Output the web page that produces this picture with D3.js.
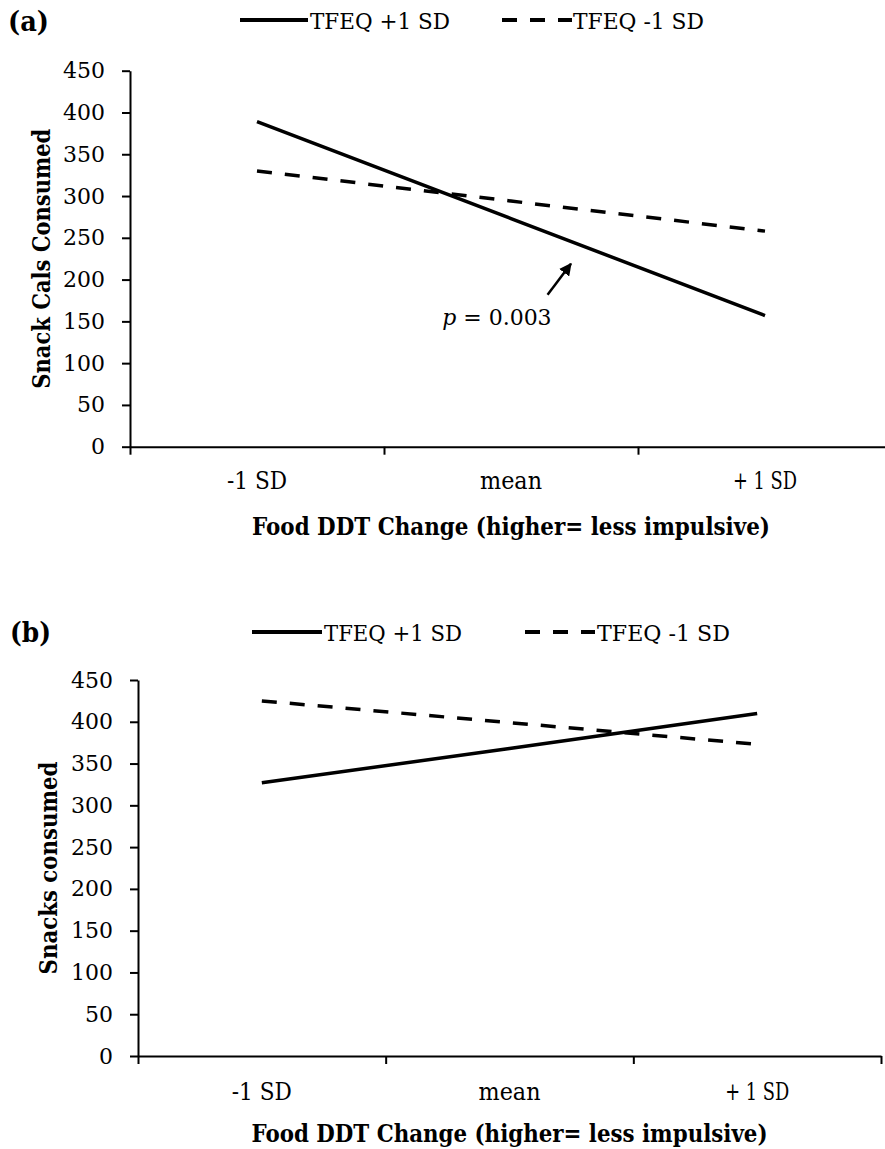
<!DOCTYPE html>
<html>
<head>
<meta charset="utf-8">
<script src="https://cdn.jsdelivr.net/npm/d3@7"></script>
<style>
  html, body { margin: 0; padding: 0; background: #fff; }
  svg { display: block; }
  text { font-family: "DejaVu Serif", serif; fill: #000; }
</style>
</head>
<body>
<svg id="chart" width="885" height="1149"></svg>
<script>
// ---------------- data ----------------
const categories = ["-1 SD", "mean", "+ 1 SD"];
const yTickValues = [0, 50, 100, 150, 200, 250, 300, 350, 400, 450];
const seriesNames = ["TFEQ +1 SD", "TFEQ -1 SD"];
// panel (a): Snack Cals Consumed
const aTfeqHigh = [389, 273, 157];
const aTfeqLow  = [330, 294, 258];
// panel (b): Snacks consumed
const bTfeqHigh = [327, 368, 410];
const bTfeqLow  = [425, 399, 373];
const panelLabels = ["(a)", "(b)"];
const yTitles = ["Snack Cals Consumed", "Snacks consumed"];
const xTitle = "Food DDT Change (higher= less impulsive)";
// annotation in panel (a): arrow (category index, value) and label
const annotArrowTail = [1.144, 182];
const annotArrowHead = [1.236, 219];
const annotLabelPos  = [1.16, 146];
const annotText = "= 0.003";

// ---------------- layout ----------------
const svg = d3.select("#chart");
svg.append("rect").attr("width", 885).attr("height", 1149).attr("fill", "#fff");

const panels = [
  { label: panelLabels[0], yTitle: yTitles[0], high: aTfeqHigh, low: aTfeqLow,
    left: 130, right: 892, top: 70.7, bottom: 446.7,
    labelPos: [8, 31], legendY: 20, legendTextY: 29,
    leg: { solid: [240, 308], t1: [310, 140], dash: [502, 572], t2: [573, 131] },
    yTitleX: 50, yTitleLen: 260, tickLabelY: 489, titleY: 535, titleLen: 518,
    tickLens: [60, 62, 64], annot: true },
  { label: panelLabels[1], yTitle: yTitles[1], high: bTfeqHigh, low: bTfeqLow,
    left: 138, right: 881, top: 680, bottom: 1056,
    labelPos: [10, 642], legendY: 632, legendTextY: 641,
    leg: { solid: [252, 322], t1: [324, 138], dash: [525, 595], t2: [597, 133] },
    yTitleX: 57, yTitleLen: 213, tickLabelY: 1100, titleY: 1142, titleLen: 516,
    tickLens: [60, 62, 64], annot: false }
];

const defs = svg.append("defs");
defs.append("marker").attr("id", "arrowhead")
  .attr("viewBox", "0 0 10 10").attr("refX", 9).attr("refY", 5)
  .attr("markerWidth", 5).attr("markerHeight", 5)
  .attr("markerUnits", "strokeWidth")
  .attr("orient", "auto")
  .append("path").attr("d", "M0,0 L10,5 L0,10 Z").attr("fill", "#000");

panels.forEach(p => {
  const g = svg.append("g");
  const y = d3.scaleLinear().domain([0, 450]).range([p.bottom, p.top]);
  const xBand = d3.scaleBand().domain(categories).range([p.left, p.right]).padding(0);
  const xEdge = d3.scaleLinear().domain([0, categories.length]).range([p.left, p.right]);
  const xIdx = d3.scaleLinear().domain([0, categories.length - 1])
    .range([xBand(categories[0]) + xBand.bandwidth() / 2,
            xBand(categories[categories.length - 1]) + xBand.bandwidth() / 2]);

  // y axis
  const yAxis = d3.axisLeft(y).tickValues(yTickValues).tickSize(8).tickSizeOuter(0).tickPadding(17);
  const ya = g.append("g").attr("transform", `translate(${p.left},0)`).call(yAxis);
  ya.select(".domain").attr("stroke", "#000").attr("stroke-width", 2);
  ya.selectAll(".tick line").attr("stroke", "#000").attr("stroke-width", 2);
  ya.selectAll(".tick text").attr("font-family", "DejaVu Serif").attr("font-size", 22).attr("fill", "#000");

  // x axis (ticks at band edges)
  const xAxis = d3.axisBottom(xEdge).tickValues(d3.range(categories.length + 1))
    .tickFormat("").tickSize(8).tickSizeOuter(0);
  const xa = g.append("g").attr("transform", `translate(0,${p.bottom})`).call(xAxis);
  xa.select(".domain").attr("stroke", "#000").attr("stroke-width", 2);
  xa.selectAll(".tick line").attr("stroke", "#000").attr("stroke-width", 2);

  // category labels
  g.selectAll(".cat").data(categories).join("text")
    .attr("class", "cat")
    .attr("x", d => xBand(d) + xBand.bandwidth() / 2)
    .attr("y", p.tickLabelY)
    .attr("text-anchor", "middle")
    .attr("font-size", 24)
    .attr("textLength", (d, i) => p.tickLens[i])
    .attr("lengthAdjust", "spacingAndGlyphs")
    .text(d => d);

  // x title
  g.append("text")
    .attr("x", (p.left + p.right) / 2 - (p.right > 885 ? 0 : 0))
    .attr("y", p.titleY)
    .attr("text-anchor", "middle")
    .attr("font-weight", "bold")
    .attr("font-size", 25)
    .attr("textLength", p.titleLen)
    .attr("lengthAdjust", "spacingAndGlyphs")
    .text(xTitle);

  // y title
  g.append("text")
    .attr("transform", `translate(${p.yTitleX},${(p.top + p.bottom) / 2}) rotate(-90)`)
    .attr("text-anchor", "middle")
    .attr("font-weight", "bold")
    .attr("font-size", 24)
    .attr("textLength", p.yTitleLen)
    .attr("lengthAdjust", "spacingAndGlyphs")
    .text(p.yTitle);

  // lines
  const line = d3.line().x((d, i) => xBand(categories[i]) + xBand.bandwidth() / 2).y(d => y(d));
  g.append("path").datum(p.low).attr("d", line)
    .attr("fill", "none").attr("stroke", "#000").attr("stroke-width", 3.5)
    .attr("stroke-dasharray", "15,13");
  g.append("path").datum(p.high).attr("d", line)
    .attr("fill", "none").attr("stroke", "#000").attr("stroke-width", 3.5);

  // panel label
  g.append("text").attr("x", p.labelPos[0]).attr("y", p.labelPos[1])
    .attr("font-weight", "bold").attr("font-size", 28)
    .attr("textLength", 41).attr("lengthAdjust", "spacingAndGlyphs")
    .text(p.label);

  // legend
  const L = p.leg;
  g.append("line").attr("x1", L.solid[0]).attr("x2", L.solid[1])
    .attr("y1", p.legendY).attr("y2", p.legendY)
    .attr("stroke", "#000").attr("stroke-width", 4);
  g.append("text").attr("x", L.t1[0]).attr("y", p.legendTextY)
    .attr("font-size", 22).attr("textLength", L.t1[1]).attr("lengthAdjust", "spacingAndGlyphs")
    .text(seriesNames[0]);
  g.append("line").attr("x1", L.dash[0]).attr("x2", L.dash[1])
    .attr("y1", p.legendY).attr("y2", p.legendY)
    .attr("stroke", "#000").attr("stroke-width", 4).attr("stroke-dasharray", "15,13");
  g.append("text").attr("x", L.t2[0]).attr("y", p.legendTextY)
    .attr("font-size", 22).attr("textLength", L.t2[1]).attr("lengthAdjust", "spacingAndGlyphs")
    .text(seriesNames[1]);

  // annotation
  if (p.annot) {
    g.append("line")
      .attr("x1", xIdx(annotArrowTail[0])).attr("y1", y(annotArrowTail[1]))
      .attr("x2", xIdx(annotArrowHead[0])).attr("y2", y(annotArrowHead[1]))
      .attr("stroke", "#000").attr("stroke-width", 2.5)
      .attr("marker-end", "url(#arrowhead)");
    const t = g.append("text")
      .attr("x", xIdx(annotLabelPos[0])).attr("y", y(annotLabelPos[1]))
      .attr("text-anchor", "end").attr("font-size", 22);
    t.append("tspan").attr("font-style", "italic").text("p");
    t.append("tspan").text(" " + annotText);
  }
});
</script>
</body>
</html>
